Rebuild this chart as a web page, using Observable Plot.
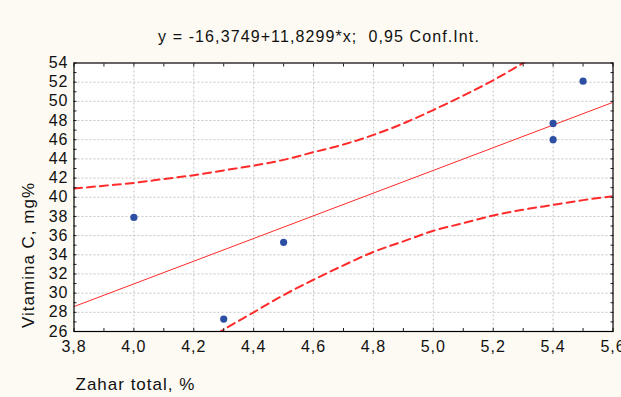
<!DOCTYPE html>
<html>
<head>
<meta charset="utf-8">
<script src="https://cdn.jsdelivr.net/npm/d3@7"></script>
<script src="https://cdn.jsdelivr.net/npm/@observablehq/plot@0.6"></script>
<style>
  html, body { margin: 0; padding: 0; background: #fdfaf3; }
  #wrap { width: 621px; height: 397px; overflow: hidden; position: relative; background: #fdfaf3; }
  #title { height: 50px; box-sizing: border-box; padding-top: 28px; padding-left: 17px; line-height: 18px;
           text-align: center; font-family: "Liberation Sans", Arial, sans-serif; font-size: 16px; letter-spacing: 1.1px; color: #111; white-space: pre; }
  svg { font-family: "Liberation Sans", Arial, sans-serif; letter-spacing: 1px; }
</style>
</head>
<body>
<div id="wrap">
  <div id="title"></div>
</div>
<script>
// ---- data ----
const titleText = "y = -16,3749+11,8299*x;  0,95 Conf.Int.";
const xLabel = "Zahar total, %";
const yLabel = "Vitamina C, mg%";

const zaharTotal = [4.0, 4.3, 4.5, 5.4, 5.4, 5.5];
const vitaminaC  = [37.9, 27.3, 35.3, 47.7, 46.0, 52.1];

// fitted line at the domain edges
const fitX = [3.8, 5.6];
const fitY = [28.6, 49.9];

// dashed 0.95 confidence curves
const ciX     = [3.8, 3.9, 4.0, 4.1, 4.2, 4.3, 4.4, 4.5, 4.6, 4.7, 4.8, 4.9, 5.0, 5.1, 5.2, 5.3, 5.4, 5.5, 5.6];
const ciUpper = [40.9, 41.2, 41.5, 41.9, 42.3, 42.8, 43.3, 43.9, 44.7, 45.5, 46.5, 47.7, 49.1, 50.6, 52.2, 54.0, 55.8, 57.7, 59.7];
const ciLower = [16.3, 18.3, 20.4, 22.4, 24.3, 26.2, 28.0, 29.8, 31.4, 32.9, 34.3, 35.4, 36.5, 37.3, 38.1, 38.7, 39.2, 39.7, 40.1];

const xTickValues = [3.8, 4.0, 4.2, 4.4, 4.6, 4.8, 5.0, 5.2, 5.4, 5.6];
const xTickLabels = ["3,8", "4,0", "4,2", "4,4", "4,6", "4,8", "5,0", "5,2", "5,4", "5,6"];
const yTickValues = [26, 28, 30, 32, 34, 36, 38, 40, 42, 44, 46, 48, 50, 52, 54];
const xMinorTicks = d3.range(38, 57).map(d => d / 10);
const yMinorTicks = d3.range(26, 55);

// ---- build ----
const points = zaharTotal.map((x, i) => ({x, y: vitaminaC[i]}));
const fit = fitX.map((x, i) => ({x, y: fitY[i]}));
const upper = ciX.map((x, i) => ({x, y: ciUpper[i]}));
const lower = ciX.map((x, i) => ({x, y: ciLower[i]}));
const xLab = new Map(xTickValues.map((v, i) => [v, xTickLabels[i]]));

document.getElementById("title").textContent = titleText;

const red = "#ff2a2a";
const chart = Plot.plot({
  width: 621,
  height: 347,
  marginTop: 12.5,
  marginBottom: 66,
  marginLeft: 73.5,
  marginRight: 8.5,
  style: {background: "transparent", overflow: "visible"},
  x: {domain: [3.8, 5.6]},
  y: {domain: [26, 54]},
  marks: [
    Plot.frame({fill: "white", stroke: null}),
    Plot.gridX(xTickValues.slice(1, -1), {stroke: "#c4c4c4", strokeOpacity: 1, strokeDasharray: "2,2"}),
    Plot.gridY(yTickValues.slice(1, -1), {stroke: "#c4c4c4", strokeOpacity: 1, strokeDasharray: "2,2"}),
    Plot.line(fit, {x: "x", y: "y", stroke: red, strokeWidth: 1, clip: true}),
    Plot.line(upper, {x: "x", y: "y", stroke: red, strokeWidth: 2, strokeDasharray: "8,5", curve: "monotone-x", clip: true}),
    Plot.line(lower, {x: "x", y: "y", stroke: red, strokeWidth: 2, strokeDasharray: "8,5", curve: "monotone-x", clip: true}),
    Plot.dot(points, {x: "x", y: "y", r: 3.6, fill: "#2d4fa3", stroke: null}),
    // inward tick marks on all four sides
    Plot.axisY(yMinorTicks, {anchor: "left", tickSize: 3, dx: 3, fill: "none", stroke: "#222", label: null}),
    Plot.axisY(yMinorTicks, {anchor: "right", tickSize: 3, dx: -3, fill: "none", stroke: "#222", label: null}),
    Plot.axisX(xMinorTicks, {anchor: "bottom", tickSize: 3, dy: -3, fill: "none", stroke: "#222", label: null}),
    Plot.axisX(xMinorTicks, {anchor: "top", tickSize: 3, dy: 3, fill: "none", stroke: "#222", label: null}),
    // labelled axes
    Plot.axisY(yTickValues, {anchor: "left", tickSize: 0, tickPadding: 5.5, fontSize: 16, fill: "#111", label: null, tickFormat: d => String(d)}),
    Plot.axisX(xTickValues, {anchor: "bottom", tickSize: 0, tickPadding: 9, fontSize: 16, fill: "#111", label: null, tickFormat: d => xLab.get(d)}),
    Plot.frame({stroke: "black", strokeWidth: 1.2}),
    Plot.text([xLabel], {frameAnchor: "bottom-left", dx: 1.5, dy: 52.9, textAnchor: "start", lineAnchor: "middle", fontSize: 17, fill: "#111"}),
    Plot.text([yLabel], {frameAnchor: "left", dx: -45.6, dy: 57.75, rotate: -90, textAnchor: "middle", lineAnchor: "middle", fontSize: 17, fill: "#111"})
  ]
});
document.getElementById("wrap").appendChild(chart);
</script>
</body>
</html>
